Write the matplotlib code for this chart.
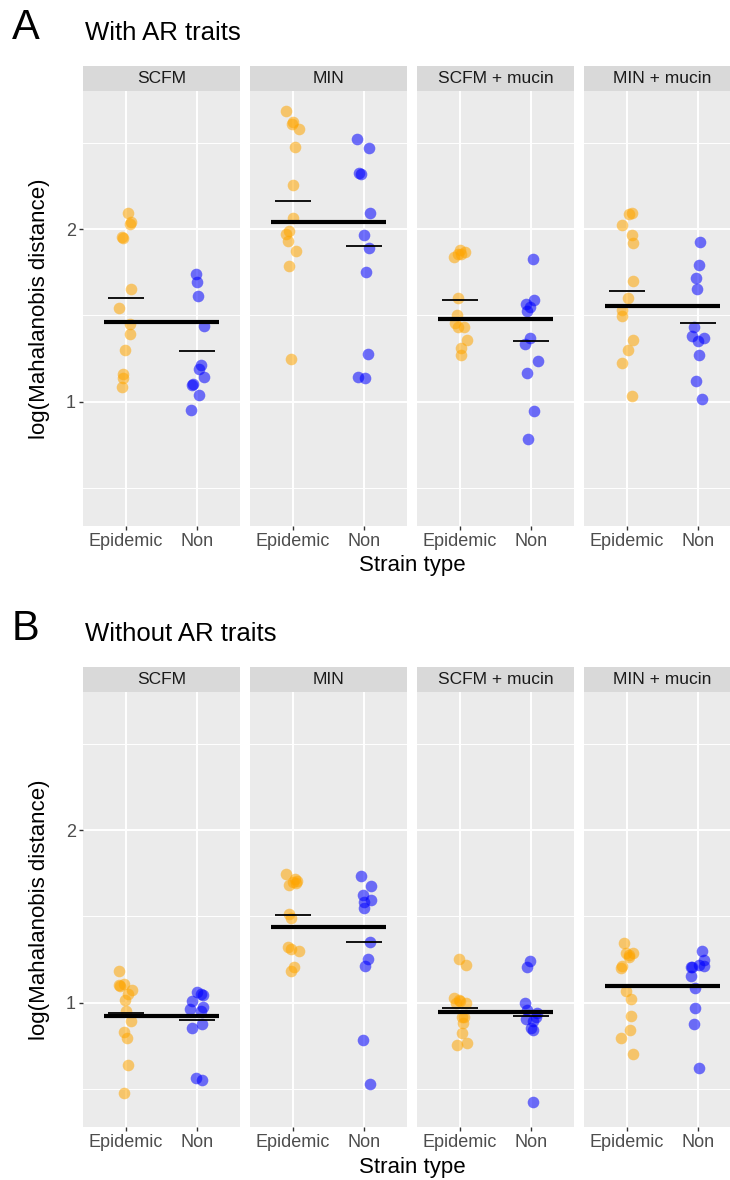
import numpy as np
import matplotlib.pyplot as plt

plt.rcParams['font.family'] = ['Liberation Sans', 'DejaVu Sans']

media = ['SCFM', 'MIN', 'SCFM + mucin', 'MIN + mucin']
strain_types = ['Epidemic', 'Non']

# log(Mahalanobis distance) per strain, computed with AR traits
a_scfm_epi = [2.094, 2.042, 2.027, 1.955, 1.950, 1.653, 1.545, 1.453, 1.395, 1.297, 1.160, 1.139, 1.085]
a_scfm_non = [1.742, 1.692, 1.613, 1.439, 1.212, 1.191, 1.145, 1.104, 1.094, 1.040, 0.952]
a_min_epi = [2.682, 2.620, 2.609, 2.578, 2.478, 2.256, 2.066, 1.988, 1.973, 1.929, 1.873, 1.788, 1.249]
a_min_non = [2.524, 2.472, 2.326, 2.318, 2.091, 1.967, 1.888, 1.750, 1.276, 1.145, 1.135]
a_scfmm_epi = [1.881, 1.867, 1.857, 1.854, 1.838, 1.599, 1.501, 1.455, 1.434, 1.432, 1.356, 1.310, 1.268]
a_scfmm_non = [1.829, 1.592, 1.565, 1.549, 1.526, 1.372, 1.333, 1.237, 1.164, 0.944, 0.784]
a_minm_epi = [2.091, 2.089, 2.025, 1.967, 1.919, 1.698, 1.603, 1.530, 1.499, 1.360, 1.301, 1.225, 1.033]
a_minm_non = [1.923, 1.794, 1.717, 1.655, 1.434, 1.380, 1.372, 1.349, 1.268, 1.121, 1.013]

# same, without AR traits
b_scfm_epi = [1.183, 1.106, 1.102, 1.097, 1.073, 1.052, 1.015, 0.952, 0.896, 0.832, 0.797, 0.639, 0.479]
b_scfm_non = [1.064, 1.052, 1.044, 1.012, 0.975, 0.961, 0.954, 0.876, 0.851, 0.562, 0.554]
b_min_epi = [1.745, 1.714, 1.705, 1.700, 1.695, 1.683, 1.514, 1.488, 1.324, 1.313, 1.301, 1.205, 1.185]
b_min_non = [1.734, 1.678, 1.624, 1.595, 1.585, 1.548, 1.353, 1.255, 1.214, 0.784, 0.529]
b_scfmm_epi = [1.251, 1.218, 1.025, 1.015, 1.010, 1.000, 0.996, 0.919, 0.915, 0.880, 0.822, 0.768, 0.755]
b_scfmm_non = [1.243, 1.205, 1.000, 0.958, 0.938, 0.915, 0.903, 0.895, 0.855, 0.842, 0.423]
b_minm_epi = [1.344, 1.290, 1.286, 1.276, 1.263, 1.214, 1.199, 1.068, 1.019, 0.923, 0.842, 0.793, 0.703]
b_minm_non = [1.297, 1.247, 1.218, 1.215, 1.208, 1.205, 1.156, 1.083, 0.969, 0.875, 0.620]

panels = [
    ('A', 'With AR traits', [(a_scfm_epi, a_scfm_non), (a_min_epi, a_min_non),
                             (a_scfmm_epi, a_scfmm_non), (a_minm_epi, a_minm_non)]),
    ('B', 'Without AR traits', [(b_scfm_epi, b_scfm_non), (b_min_epi, b_min_non),
                                (b_scfmm_epi, b_scfmm_non), (b_minm_epi, b_minm_non)]),
]

colors = ['#FFA500', '#0000FF']
W, H = 730, 1180
facet_left = [83, 250, 417, 584]
facet_w = 157
plot_top = [91, 692]
plot_h = 435
strip_h = 25


def rect(x, y_top, w, h):
    return [x / W, 1 - (y_top + h) / H, w / W, h / H]


fig = plt.figure(figsize=(W / 100, H / 100), dpi=100)
rng = np.random.default_rng(7)

for p, (letter, title, facets) in enumerate(panels):
    top = plot_top[p]
    for f, (epi, non) in enumerate(facets):
        ax = fig.add_axes(rect(facet_left[f], top, facet_w, plot_h))
        ax.set_facecolor('#EBEBEB')
        for s in ax.spines.values():
            s.set_visible(False)
        ax.set_xlim(0.4, 2.6)
        ax.set_ylim(0.28, 2.80)
        ax.set_xticks([1, 2])
        ax.set_xticklabels(strain_types)
        ax.set_yticks([1, 2])
        ax.set_yticks([0.5, 1.5, 2.5], minor=True)
        ax.grid(which='major', color='white', lw=1.4)
        ax.grid(which='minor', axis='y', color='white', lw=0.7)
        ax.set_axisbelow(True)
        ax.tick_params(which='major', length=3, width=1.0, color='#333333',
                       labelcolor='#4D4D4D', labelsize=13, pad=2)
        ax.tick_params(which='minor', length=0)
        if f > 0:
            ax.tick_params(axis='y', left=False, labelleft=False)

        groups = [epi, non]
        for g, vals in enumerate(groups):
            vals = np.array(vals)
            xs = g + 1 + rng.uniform(-0.1, 0.1, len(vals))
            ax.scatter(xs, vals, s=70, color=colors[g], alpha=0.55, lw=0, zorder=3)
            ax.hlines(vals.mean(), g + 0.75, g + 1.25, color='black', lw=1.3, zorder=4)
        overall = np.concatenate([epi, non]).mean()
        ax.hlines(overall, 0.7, 2.3, color='black', lw=3.0, zorder=5)

        sax = fig.add_axes(rect(facet_left[f], top - strip_h, facet_w, strip_h))
        sax.set_facecolor('#D9D9D9')
        sax.set_xticks([])
        sax.set_yticks([])
        for s in sax.spines.values():
            s.set_visible(False)
        sax.text(0.5, 0.5, media[f], ha='center', va='center', fontsize=12.5,
                 color='#1A1A1A', transform=sax.transAxes)

    # panel letter, title and axis titles
    fig.text(12 / W, 1 - (top - 63) / H, letter, fontsize=30, va='center', ha='left')
    fig.text(85 / W, 1 - (top - 58) / H, title, fontsize=18.5, va='center', ha='left')
    fig.text((83 + 584 + facet_w) / 2 / W, 1 - (top + plot_h + 40) / H, 'Strain type',
             fontsize=16, ha='center', va='center')
    fig.text(40 / W, 1 - (top + plot_h / 2) / H, 'log(Mahalanobis distance)',
             fontsize=16, rotation=90, ha='center', va='center')

fig.savefig('out.png', dpi=100)
